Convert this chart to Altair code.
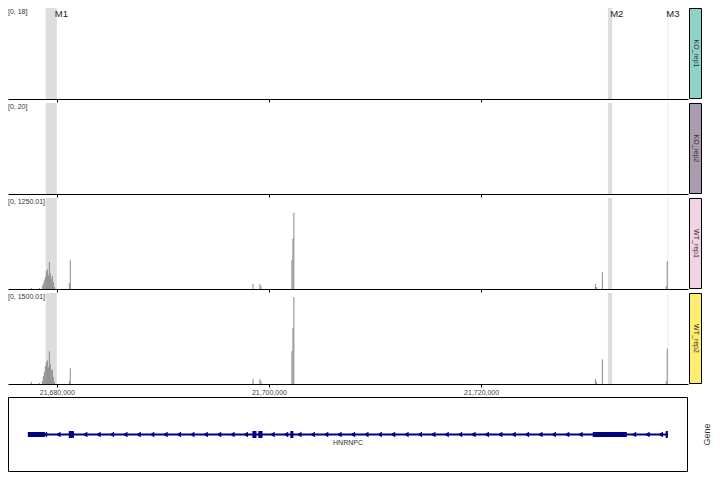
import altair as alt
import numpy as np
import pandas as pd

# ---------------- data ----------------
tracks = ["KO_rep1", "KO_rep2", "WT_rep1", "WT_rep2"]
track_max = [18, 20, 1250.01, 1500.01]
range_labels = ["[0, 18]", "[0, 20]", "[0, 1250.01]", "[0, 1500.01]"]
strip_colors = ["#8DD3C7", "#A89CAE", "#F2D3E5", "#FFED6F"]

x_domain = [21675400, 21739500]
tick_values = [21680000, 21700000, 21720000]

bin_start = [21677550, 21678300, 21678590, 21678680, 21678775, 21678870, 21678965,
             21679060, 21679155, 21679250, 21679340, 21679435, 21679530, 21679625,
             21679720, 21681130, 21681225, 21698445, 21699100, 21699195, 21702115,
             21702210, 21702300, 21730720, 21730815, 21731380, 21737400, 21737495]
bin_width = 95
wt_rep1 = [14, 14, 40, 80, 120, 165, 245, 272, 190, 370, 218, 136, 177, 95,
           27, 80, 394, 68, 68, 40, 394, 690, 1046, 68, 27, 231, 40, 380]
wt_rep2 = [33, 16, 49, 130, 196, 293, 359, 391, 277, 538, 326, 228, 245, 114,
           33, 49, 261, 82, 82, 49, 538, 929, 1435, 82, 33, 408, 49, 587]

hl_names = ["M1", "M2", "M3"]
hl_start = [21678950, 21731950, 21737580]
hl_end = [21680000, 21732350, 21737640]

gene_name = "HNRNPC"
gene_start = 21677370
gene_end = 21737600
utr_start = [21677270, 21730530]
utr_end = [21678870, 21733730]
exon_start = [21681130, 21698440, 21699000, 21702020, 21737400]
exon_end = [21681600, 21698820, 21699390, 21702300, 21737600]
gene_label_pos = 21707450

# ---------------- tables ----------------
cov_rows = []
for s, a, b in zip(bin_start, wt_rep1, wt_rep2):
    cov_rows.append({"sample": "WT_rep1", "start": s, "end": s + bin_width, "value": a})
    cov_rows.append({"sample": "WT_rep2", "start": s, "end": s + bin_width, "value": b})
cov = pd.DataFrame(cov_rows)
hl = pd.DataFrame({"name": hl_names, "start": hl_start, "end": hl_end})

FONT = "Liberation Sans"
W, H = 680, 91
xs = alt.Scale(domain=x_domain, nice=False, zero=False)


def track(i):
    name = tracks[i]
    bottom = i == len(tracks) - 1
    axis = alt.Axis(values=tick_values, labels=bottom,
                    labelExpr="format(datum.value, ',')", ticks=True,
                    tickSize=3, tickColor="black", domainColor="black",
                    domainWidth=1, grid=False, title=None, labelFontSize=7,
                    labelColor="#444444", labelPadding=1, labelFont=FONT)
    hl_layer = alt.Chart(hl).mark_rect(color="#DDDDDD", clip=True).encode(
        x=alt.X("start:Q", scale=xs, axis=axis), x2="end:Q")
    sub = cov[cov["sample"] == name]
    if len(sub) == 0:
        sub = pd.DataFrame({"start": [x_domain[0]], "end": [x_domain[0]], "value": [0]})
    bars = alt.Chart(sub).mark_rect(color="#8A8A8A", clip=True).encode(
        x=alt.X("start:Q", scale=xs, axis=axis),
        x2="end:Q",
        y=alt.Y("value:Q", scale=alt.Scale(domain=[0, track_max[i]], nice=False),
                axis=None),
        y2=alt.datum(0))
    rl = alt.Chart(pd.DataFrame({"t": [range_labels[i]]})).mark_text(
        align="left", baseline="middle", fontSize=7, font=FONT, color="#333333"
    ).encode(x=alt.value(0), y=alt.value(4), text="t:N")
    layers = [hl_layer, bars, rl]
    if i == 0:
        ml = alt.Chart(hl).mark_text(align="left", baseline="middle", fontSize=9.5,
                                     font=FONT, color="#222222", dx=-2).encode(
            x=alt.X("end:Q", scale=xs, axis=axis), y=alt.value(6), text="name:N")
        layers.append(ml)
    return alt.layer(*layers).properties(width=W, height=H,
                                         view=alt.ViewBackground(stroke=None))


def strip(i):
    d = pd.DataFrame({"t": [tracks[i]]})
    r = alt.Chart(d).mark_rect(fill=strip_colors[i], stroke="black", strokeWidth=1).encode(
        x=alt.value(0.5), x2=alt.value(12.5), y=alt.value(0.5), y2=alt.value(H - 0.5))
    t = alt.Chart(d).mark_text(angle=90, fontSize=7, font=FONT, color="#333333",
                               baseline="middle", align="center").encode(
        x=alt.value(6.5), y=alt.value(H / 2), text="t:N")
    return alt.layer(r, t).properties(width=13, height=H,
                                      view=alt.ViewBackground(stroke=None))


GTOP = 9
GH = 75
gcol = "#000080"
mid = GTOP + GH / 2

box = alt.Chart(pd.DataFrame({"a": [0]})).mark_rect(
    fill=None, stroke="black", strokeWidth=1).encode(
    x=alt.value(0.5), x2=alt.value(W - 0.5), y=alt.value(GTOP + 0.5),
    y2=alt.value(GTOP + GH - 0.5))
gline = alt.Chart(pd.DataFrame({"s": [gene_start], "e": [gene_end]})).mark_rule(
    color=gcol, strokeWidth=2).encode(
    x=alt.X("s:Q", scale=xs, axis=None), x2="e:Q", y=alt.value(mid))
arrow_pos = np.arange(gene_start + 1500, gene_end - 200, 1262)
arrows = alt.Chart(pd.DataFrame({"p": arrow_pos})).mark_point(
    shape="triangle-left", filled=True, size=30, color=gcol, opacity=1).encode(
    x=alt.X("p:Q", scale=xs, axis=None), y=alt.value(mid))
utr = alt.Chart(pd.DataFrame({"s": utr_start, "e": utr_end})).mark_rect(color=gcol).encode(
    x=alt.X("s:Q", scale=xs, axis=None), x2="e:Q",
    y=alt.value(mid - 2.5), y2=alt.value(mid + 2.5))
exons = alt.Chart(pd.DataFrame({"s": exon_start, "e": exon_end})).mark_rect(color=gcol).encode(
    x=alt.X("s:Q", scale=xs, axis=None), x2="e:Q",
    y=alt.value(mid - 3.5), y2=alt.value(mid + 3.5))
glabel = alt.Chart(pd.DataFrame({"p": [gene_label_pos], "t": [gene_name]})).mark_text(
    fontSize=7, font=FONT, color="#333333", baseline="middle").encode(
    x=alt.X("p:Q", scale=xs, axis=None), y=alt.value(mid + 8), text="t:N")
gene = alt.layer(box, gline, utr, exons, arrows, glabel).properties(
    width=W, height=GTOP + GH, view=alt.ViewBackground(stroke=None))

gene_side = alt.Chart(pd.DataFrame({"t": ["Gene"]})).mark_text(
    angle=270, fontSize=9, font=FONT, color="#333333", baseline="middle", align="center"
).encode(x=alt.value(18), y=alt.value(mid), text="t:N").properties(
    width=23, height=GTOP + GH, view=alt.ViewBackground(stroke=None))

cells = []
for i in range(len(tracks)):
    cells += [track(i), strip(i)]
cells += [gene, gene_side]

chart = alt.concat(*cells, columns=2, spacing={"row": 4, "column": 1},
                   bounds="flush", align="each").properties(
    padding={"left": 0, "top": 0, "right": 0, "bottom": 0}
).configure_view(stroke=None).configure(font=FONT)

chart.save("out.html", embed_options={"renderer": "svg", "actions": False})
